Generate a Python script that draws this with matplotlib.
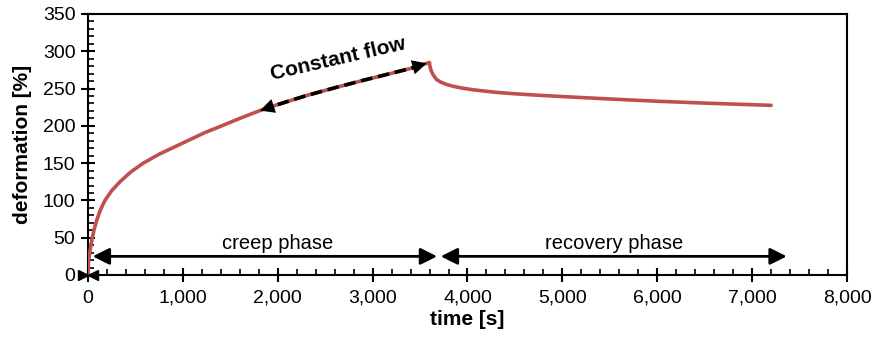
import matplotlib
matplotlib.use("Agg")
import matplotlib.pyplot as plt
from matplotlib.ticker import MultipleLocator, FuncFormatter

plt.rcParams['font.family'] = ['Liberation Sans', 'DejaVu Sans']

creep_t = [0, 5, 10, 20, 30, 46, 65, 91, 130, 179, 250, 337, 450, 583, 750, 917, 1100, 1233,
           1400, 1600, 1813, 2000, 2300, 2600, 2900, 3200, 3400, 3600]
creep_y = [0, 15, 22, 31, 39, 50, 61, 73, 87, 100, 113, 125, 138, 150, 162, 172, 183, 191,
           199.5, 210, 220.5, 228.5, 240.5, 251, 261, 270.5, 277, 285]
rec_t = [3600, 3603, 3610, 3622, 3640, 3675, 3720, 3780, 3851, 3950, 4062, 4200, 4325, 4500,
         4750, 5000, 5500, 6000, 6500, 7000, 7200]
rec_y = [285, 281, 277, 272.5, 268, 262, 258.5, 255.5, 253, 250.5, 248.3, 246.3, 244.7, 243,
         241, 239.3, 236, 233, 230.5, 228.3, 227.5]

flow_range = (1813, 3570)
creep_arrow = (50, 3680)
recovery_arrow = (3718, 7365)
arrow_y = 25

fig = plt.figure(figsize=(8.77, 3.47), dpi=100)
ax = fig.add_axes([0.1003, 0.2075, 0.8655, 0.7522])

red = '#C0504D'
ax.plot(creep_t + rec_t[1:], creep_y + rec_y[1:], color=red, lw=2.6, solid_capstyle='round',
        solid_joinstyle='round', zorder=3)

# constant flow dashed arrow following the curve
ft = [t for t in creep_t if flow_range[0] <= t <= flow_range[1]]
fy = [y for t, y in zip(creep_t, creep_y) if flow_range[0] <= t <= flow_range[1]]
ft = ft + [flow_range[1]]
fy = fy + [fy[-1] + (creep_y[-1] - fy[-1]) * (flow_range[1] - creep_t[-2]) / (creep_t[-1] - creep_t[-2])]
ax.plot(ft[1:], fy[1:], color='black', lw=2.6, linestyle=(0, (3.2, 1.6)), zorder=4)
ax.annotate('', xy=(ft[0], fy[0]), xytext=(ft[1], fy[1]),
            arrowprops=dict(arrowstyle='-|>', color='black', lw=0, mutation_scale=26,
                            shrinkA=0, shrinkB=0), zorder=5)
ax.annotate('', xy=(ft[-1], fy[-1]), xytext=(ft[-3], fy[-3]),
            arrowprops=dict(arrowstyle='-|>', color='black', lw=0, mutation_scale=26,
                            shrinkA=0, shrinkB=0), zorder=5)
ax.text(2635, 290, 'Constant flow', rotation=13, ha='center', va='center',
        fontsize=15, fontweight='bold')

# phase arrows
for a0, a1 in (creep_arrow, recovery_arrow):
    ax.annotate('', xy=(a0, arrow_y), xytext=(a1, arrow_y),
                arrowprops=dict(arrowstyle='<|-|>', color='black', lw=2, mutation_scale=25,
                                shrinkA=0, shrinkB=0))
ax.text(2000, 42, 'creep phase', ha='center', va='center', fontsize=14.5)
ax.text(5550, 42, 'recovery phase', ha='center', va='center', fontsize=14.5)

# tiny arrows at origin
ax.plot([-50], [0], marker='>', color='black', markersize=7, clip_on=False, zorder=6)
ax.plot([50], [0], marker='<', color='black', markersize=7, clip_on=False, zorder=6)

ax.set_xlim(0, 8000)
ax.set_ylim(0, 350)
ax.xaxis.set_major_locator(MultipleLocator(1000))
ax.xaxis.set_minor_locator(MultipleLocator(200))
ax.yaxis.set_major_locator(MultipleLocator(50))
ax.yaxis.set_minor_locator(MultipleLocator(10))
ax.xaxis.set_major_formatter(FuncFormatter(lambda v, p: f'{int(v):,}'))

ax.tick_params(axis='x', which='major', direction='inout', length=9.5, width=1.5, labelsize=14, pad=6)
ax.tick_params(axis='x', which='minor', direction='in', length=4.5, width=1.2)
ax.tick_params(axis='y', which='major', direction='inout', length=10, width=1.5, labelsize=14, pad=4)
ax.tick_params(axis='y', which='minor', direction='in', length=4.5, width=1.2)
for s in ax.spines.values():
    s.set_linewidth(1.5)

ax.set_xlabel('time [s]', fontsize=15, fontweight='bold', labelpad=2)
ax.set_ylabel('deformation [%]', fontsize=15, fontweight='bold', labelpad=8)

fig.savefig('out.png', dpi=100)
